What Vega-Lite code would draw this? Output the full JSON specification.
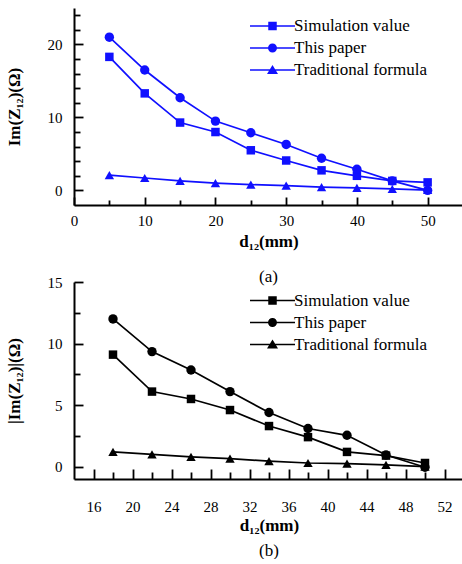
{
  "$schema": "https://vega.github.io/schema/vega-lite/v6.json",
  "background": "white",
  "padding": {"left": 5, "top": 8, "right": 0, "bottom": 0},
  "bounds": "flush",
  "spacing": 77,
  "config": {
    "font": "Liberation Serif",
    "view": {"stroke": null},
    "axis": {
      "domainColor": "black", "domainWidth": 2, "tickColor": "black", "tickWidth": 1.8,
      "labelFont": "Liberation Serif", "labelFontSize": 15, "labelColor": "black",
      "titleFont": "Liberation Serif", "titleFontSize": 17, "titleFontWeight": "bold", "titleColor": "black",
      "grid": false, "labelFlush": false, "labelOverlap": false
    },
    "legend": {"labelFont": "Liberation Serif", "labelFontSize": 17, "labelColor": "black"},
    "title": {"font": "Liberation Serif", "fontSize": 17, "fontWeight": "normal", "orient": "bottom", "anchor": "middle", "color": "black", "offset": 19}
  },
  "datasets": {
    "a": [
      {"d": 5, "v": 18.3, "series": "Simulation value"},
      {"d": 10, "v": 13.3, "series": "Simulation value"},
      {"d": 15, "v": 9.3, "series": "Simulation value"},
      {"d": 20, "v": 8.0, "series": "Simulation value"},
      {"d": 25, "v": 5.5, "series": "Simulation value"},
      {"d": 30, "v": 4.1, "series": "Simulation value"},
      {"d": 35, "v": 2.75, "series": "Simulation value"},
      {"d": 40, "v": 2.0, "series": "Simulation value"},
      {"d": 45, "v": 1.3, "series": "Simulation value"},
      {"d": 50, "v": 1.1, "series": "Simulation value"},
      {"d": 5, "v": 21.0, "series": "This paper"},
      {"d": 10, "v": 16.5, "series": "This paper"},
      {"d": 15, "v": 12.7, "series": "This paper"},
      {"d": 20, "v": 9.5, "series": "This paper"},
      {"d": 25, "v": 7.9, "series": "This paper"},
      {"d": 30, "v": 6.3, "series": "This paper"},
      {"d": 35, "v": 4.4, "series": "This paper"},
      {"d": 40, "v": 2.9, "series": "This paper"},
      {"d": 45, "v": 1.3, "series": "This paper"},
      {"d": 50, "v": 0.0, "series": "This paper"},
      {"d": 5, "v": 2.1, "series": "Traditional formula"},
      {"d": 10, "v": 1.7, "series": "Traditional formula"},
      {"d": 15, "v": 1.3, "series": "Traditional formula"},
      {"d": 20, "v": 1.0, "series": "Traditional formula"},
      {"d": 25, "v": 0.8, "series": "Traditional formula"},
      {"d": 30, "v": 0.65, "series": "Traditional formula"},
      {"d": 35, "v": 0.45, "series": "Traditional formula"},
      {"d": 40, "v": 0.35, "series": "Traditional formula"},
      {"d": 45, "v": 0.2, "series": "Traditional formula"},
      {"d": 50, "v": 0.05, "series": "Traditional formula"}
    ],
    "b": [
      {"d": 18, "v": 9.1, "series": "Simulation value"},
      {"d": 22, "v": 6.1, "series": "Simulation value"},
      {"d": 26, "v": 5.5, "series": "Simulation value"},
      {"d": 30, "v": 4.6, "series": "Simulation value"},
      {"d": 34, "v": 3.3, "series": "Simulation value"},
      {"d": 38, "v": 2.4, "series": "Simulation value"},
      {"d": 42, "v": 1.2, "series": "Simulation value"},
      {"d": 46, "v": 0.9, "series": "Simulation value"},
      {"d": 50, "v": 0.3, "series": "Simulation value"},
      {"d": 18, "v": 12.0, "series": "This paper"},
      {"d": 22, "v": 9.35, "series": "This paper"},
      {"d": 26, "v": 7.85, "series": "This paper"},
      {"d": 30, "v": 6.1, "series": "This paper"},
      {"d": 34, "v": 4.4, "series": "This paper"},
      {"d": 38, "v": 3.1, "series": "This paper"},
      {"d": 42, "v": 2.55, "series": "This paper"},
      {"d": 46, "v": 0.95, "series": "This paper"},
      {"d": 50, "v": -0.05, "series": "This paper"},
      {"d": 18, "v": 1.2, "series": "Traditional formula"},
      {"d": 22, "v": 1.0, "series": "Traditional formula"},
      {"d": 26, "v": 0.8, "series": "Traditional formula"},
      {"d": 30, "v": 0.65, "series": "Traditional formula"},
      {"d": 34, "v": 0.45, "series": "Traditional formula"},
      {"d": 38, "v": 0.3, "series": "Traditional formula"},
      {"d": 42, "v": 0.25, "series": "Traditional formula"},
      {"d": 46, "v": 0.15, "series": "Traditional formula"},
      {"d": 50, "v": 0.0, "series": "Traditional formula"}
    ]
  },
  "vconcat": [
    {
      "width": 389,
      "height": 197,
      "title": {"text": "(a)"},
      "data": {"name": "a"},
      "encoding": {
        "x": {
          "field": "d", "type": "quantitative",
          "scale": {"domain": [0, 55], "nice": false, "zero": false},
          "axis": {
            "title": "d₁₂(mm)",
            "values": [0, 5, 10, 15, 20, 25, 30, 35, 40, 45, 50],
            "labelExpr": "datum.value % 10 === 0 ? datum.label : ''",
            "tickSize": {"condition": {"test": "datum.value % 10 === 0", "value": -8}, "value": -5},
            "labelPadding": 16.5,
            "titlePadding": 2
          }
        },
        "y": {
          "field": "v", "type": "quantitative",
          "scale": {"domain": [-2, 25], "nice": false, "zero": false},
          "axis": {
            "title": "Im(Z₁₂)(Ω)",
            "values": [0, 2, 4, 6, 8, 10, 12, 14, 16, 18, 20, 22, 24],
            "labelExpr": "datum.value % 10 === 0 ? datum.label : ''",
            "tickSize": {"condition": {"test": "datum.value % 10 === 0", "value": -9}, "value": -6},
            "labelPadding": 21,
            "titlePadding": 24
          }
        }
      },
      "layer": [
        {
          "mark": {"type": "line", "color": "#1010ff", "strokeWidth": 1.7},
          "encoding": {"detail": {"field": "series", "type": "nominal"}}
        },
        {
          "mark": {"type": "point", "filled": true, "color": "#1010ff", "opacity": 1},
          "encoding": {
            "size": {"condition": {"test": "datum.series === 'Simulation value'", "value": 72}, "value": 88},
            "shape": {
              "field": "series", "type": "nominal",
              "scale": {"range": ["square", "circle", "triangle-up"]},
              "legend": null
            }
          }
        },
        {
          "mark": {"type": "point", "filled": true, "color": "#1010ff", "opacity": 0},
          "encoding": {
            "shape": {
              "field": "series", "type": "nominal",
              "scale": {
                "domain": ["Simulation value", "This paper", "Traditional formula"],
                "range": [
                  "M-4.5,-0.17H4.5V0.17H-4.5ZM-0.85,-0.85H0.85V0.85H-0.85Z",
                  "M-4.5,-0.17H4.5V0.17H-4.5ZM-0.9,0A0.9,0.9,0,0,1,0.9,0A0.9,0.9,0,0,1,-0.9,0Z",
                  "M-4.5,-0.17H4.5V0.17H-4.5ZM0,-1L1.1,0.8L-1.1,0.8Z"
                ]
              },
              "legend": {
                "title": null, "orient": "none", "legendX": 190, "legendY": 9.5,
                "padding": 0, "symbolSize": 100, "symbolStrokeWidth": 0, "symbolOpacity": 1,
                "symbolFillColor": "#1010ff",
                "labelFont": "Liberation Serif", "labelFontSize": 17, "labelColor": "black",
                "labelOffset": 13, "rowPadding": 4,
                "encode": {
                  "symbols": {
                    "fill": {"value": "#1010ff"},
                    "opacity": {"value": 1}
                  }
                }
              }
            }
          }
        }
      ],
      "resolve": {"scale": {"shape": "independent"}}
    },
    {
      "width": 390,
      "height": 197,
      "title": {"text": "(b)", "offset": 10},
      "data": {"name": "b"},
      "encoding": {
        "x": {
          "field": "d", "type": "quantitative",
          "scale": {"domain": [14, 54], "nice": false, "zero": false},
          "axis": {
            "title": "d₁₂(mm)",
            "values": [16, 18, 20, 22, 24, 26, 28, 30, 32, 34, 36, 38, 40, 42, 44, 46, 48, 50, 52],
            "labelExpr": "datum.value % 4 === 0 ? datum.label : ''",
            "tickSize": {"condition": {"test": "datum.value % 4 === 0", "value": -10}, "value": -7},
            "labelPadding": 30,
            "titlePadding": 0
          }
        },
        "y": {
          "field": "v", "type": "quantitative",
          "scale": {"domain": [-1, 15], "nice": false, "zero": false},
          "axis": {
            "title": "|Im(Z₁₂)|(Ω)",
            "values": [0, 2.5, 5, 7.5, 10, 12.5, 15],
            "labelExpr": "datum.value % 5 === 0 ? datum.label : ''",
            "tickSize": {"condition": {"test": "datum.value % 5 === 0", "value": -9}, "value": -6},
            "labelPadding": 21,
            "titlePadding": 24
          }
        }
      },
      "layer": [
        {
          "mark": {"type": "line", "color": "black", "strokeWidth": 1.7},
          "encoding": {"detail": {"field": "series", "type": "nominal"}}
        },
        {
          "mark": {"type": "point", "filled": true, "color": "black", "opacity": 1},
          "encoding": {
            "size": {"condition": {"test": "datum.series === 'Simulation value'", "value": 72}, "value": 88},
            "shape": {
              "field": "series", "type": "nominal",
              "scale": {"range": ["square", "circle", "triangle-up"]},
              "legend": null
            }
          }
        },
        {
          "mark": {"type": "point", "filled": true, "color": "black", "opacity": 0},
          "encoding": {
            "shape": {
              "field": "series", "type": "nominal",
              "scale": {
                "domain": ["Simulation value", "This paper", "Traditional formula"],
                "range": [
                  "M-4.5,-0.17H4.5V0.17H-4.5ZM-0.85,-0.85H0.85V0.85H-0.85Z",
                  "M-4.5,-0.17H4.5V0.17H-4.5ZM-0.9,0A0.9,0.9,0,0,1,0.9,0A0.9,0.9,0,0,1,-0.9,0Z",
                  "M-4.5,-0.17H4.5V0.17H-4.5ZM0,-1L1.1,0.8L-1.1,0.8Z"
                ]
              },
              "legend": {
                "title": null, "orient": "none", "legendX": 190, "legendY": 10,
                "padding": 0, "symbolSize": 100, "symbolStrokeWidth": 0, "symbolOpacity": 1,
                "symbolFillColor": "black",
                "labelFont": "Liberation Serif", "labelFontSize": 17, "labelColor": "black",
                "labelOffset": 13, "rowPadding": 4,
                "encode": {
                  "symbols": {
                    "fill": {"value": "black"},
                    "opacity": {"value": 1}
                  }
                }
              }
            }
          }
        }
      ],
      "resolve": {"scale": {"shape": "independent"}}
    }
  ]
}
